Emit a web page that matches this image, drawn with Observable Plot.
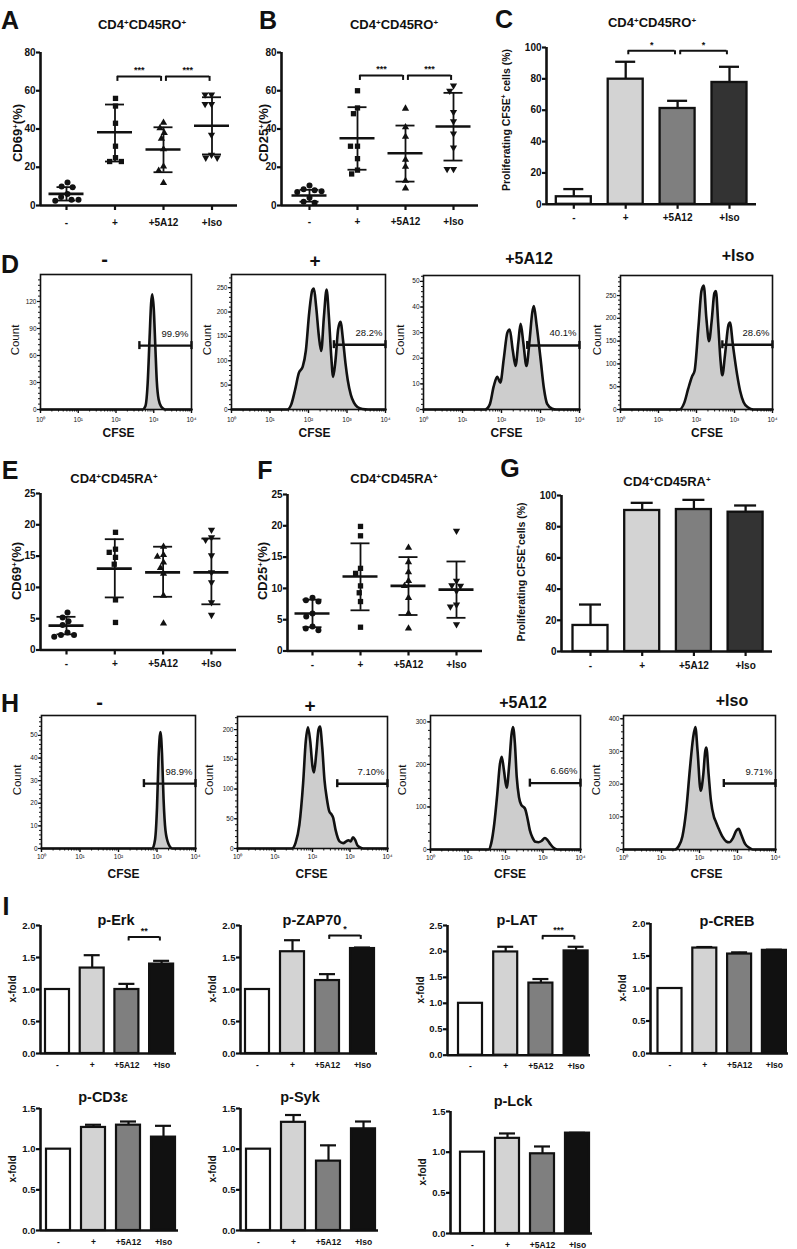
<!DOCTYPE html>
<html><head><meta charset="utf-8">
<script src="https://cdn.jsdelivr.net/npm/d3@7"></script>
<script src="https://cdn.jsdelivr.net/npm/@observablehq/plot@0.6"></script>
<style>
body{margin:0;background:#fff;}
#root{position:relative;width:797px;height:1249px;overflow:hidden;font-family:"Liberation Sans",Arial,Helvetica,sans-serif;color:#111;background:#fff;}
.t{position:absolute;white-space:nowrap;transform:translate(-50%,-50%);line-height:1;}
.v{position:absolute;white-space:nowrap;transform:translate(-50%,-50%) rotate(-90deg);line-height:1;}
.t sup,.v sup{font-size:62%;vertical-align:0;position:relative;top:-0.55em;}
</style></head><body><div id="root"></div><script>
// ---------------- DATA ----------------
const cats = ["-", "+", "+5A12", "+Iso"];

// A: CD69+ (%) CD4+CD45RO+
const aMinus = [12, 10, 9.5, 6, 4.5, 3, 3, 2.5];
const aPlus = [56, 52, 43, 31, 25, 23, 23];
const a5A12 = [43.3, 40.5, 38, 35, 29.4, 20.4, 18.2, 11.8];
const aIso = [58, 58, 53, 53, 37, 26.5, 25, 25];
const aMean = [6.1, 38.3, 29.3, 41.7];
const aLo = [2.6, 23, 17.4, 26.7];
const aHi = [9.6, 52.8, 40.9, 56.6];
const aSig = [{from: "+", to: "+5A12", y: 67.5, label: "***"}, {from: "+5A12", to: "+Iso", y: 67.5, label: "***"}];

// B: CD25+ (%) CD4+CD45RO+
const bMinus = [10.5, 8.5, 8, 7.5, 7, 4, 2, 1.5];
const bPlus = [60, 51, 48, 31, 31, 24.5, 18.5, 16.5];
const b5A12 = [50.7, 41, 36, 24, 20.3, 13, 9];
const bIso = [62.7, 60, 48.8, 44, 37.6, 30.3, 19, 19];
const bMean = [5.2, 35.2, 27.3, 41.3];
const bLo = [2, 18.7, 12.5, 23.5];
const bHi = [8.2, 51.4, 41.8, 58.9];
const bSig = [{from: "+", to: "+5A12", y: 68, label: "***"}, {from: "+5A12", to: "+Iso", y: 68, label: "***"}];

// C: Proliferating CFSE+ cells (%) CD4+CD45RO+
const cVal = [4.8, 79.8, 61.1, 77.7];
const cHi = [9.7, 90.9, 66, 87.7];
const cSig = [{from: "+", to: "+5A12", y: 97.9, label: "*"}, {from: "+5A12", to: "+Iso", y: 97.9, label: "*"}];

// D: CFSE histograms (x = log10 CFSE, y = count)
const dMinus = [[0,0],[2.7,0],[2.78,4],[2.84,30],[2.89,80],[2.93,118],[2.96,128],[3.0,112],[3.04,72],[3.08,32],[3.13,11],[3.2,3],[3.3,0],[4,0]];
const dPlus = [[0,0],[1.45,0],[1.55,10],[1.65,40],[1.75,75],[1.85,88],[1.93,120],[2.02,200],[2.1,245],[2.14,248],[2.2,210],[2.27,150],[2.33,120],[2.4,190],[2.47,246],[2.53,190],[2.59,110],[2.64,67],[2.7,100],[2.77,165],[2.83,180],[2.9,140],[2.96,95],[3.02,60],[3.1,30],[3.18,14],[3.27,5],[3.4,1],[3.55,0],[4,0]];
const d5A12 = [[0,0],[1.58,0],[1.7,2],[1.8,9],[1.89,12.8],[1.97,10.5],[2.06,20],[2.15,30],[2.21,31.2],[2.29,23],[2.36,17],[2.43,26],[2.49,33.4],[2.56,26],[2.64,17],[2.72,27],[2.79,38],[2.83,40.4],[2.9,33],[3.0,20],[3.09,8],[3.17,2.2],[3.3,0.3],[3.4,0],[4,0]];
const dIso = [[0,0],[1.55,0],[1.68,15],[1.78,45],[1.88,72],[1.95,85],[2.05,180],[2.13,260],[2.19,272],[2.26,200],[2.33,150],[2.4,195],[2.47,255],[2.51,260],[2.57,190],[2.63,110],[2.68,75],[2.75,120],[2.84,185],[2.88,191],[2.96,140],[3.07,76],[3.15,40],[3.24,16],[3.35,5],[3.5,0],[4,0]];
const dGateX = [2.62, 2.66, 2.66, 2.68];
const dGateC = [71, 133, 25, 142];
const dPct = ["99.9%", "28.2%", "40.1%", "28.6%"];

// E: CD69+ (%) CD4+CD45RA+
const eMinus = [6.0, 5.2, 4.6, 4.0, 2.8, 2.4, 2.4, 2.1];
const ePlus = [18.8, 16.1, 15.6, 14.8, 13.7, 8.0, 4.4];
const e5A12 = [16.5, 15.2, 14.9, 14.0, 13.1, 12.2, 8.7, 4.25];
const eIso = [19.2, 18.0, 17.6, 15.1, 12.4, 10.8, 7.6, 5.6];
const eMean = [3.9, 13.0, 12.4, 12.4];
const eLo = [2.5, 8.4, 8.5, 7.3];
const eHi = [5.3, 17.7, 16.5, 17.8];

// F: CD25+ (%) CD4+CD45RA+
const fMinus = [8.5, 8.1, 7.9, 6.0, 5.5, 3.9, 3.6, 3.3];
const fPlus = [19.9, 18.4, 13.2, 12.4, 10.4, 9.3, 7.9, 3.8];
const f5A12 = [16.5, 14.2, 12.6, 11.2, 10.4, 8.5, 6.0, 3.6];
const fIso = [19.2, 11.2, 10.5, 10.4, 9.6, 7.4, 7.1, 4.25];
const fMean = [6.0, 11.9, 10.4, 9.8];
const fLo = [3.8, 6.5, 5.75, 5.3];
const fHi = [8.2, 17.2, 15.0, 14.3];

// G: Proliferating CFSE+ cells (%) CD4+CD45RA+
const gVal = [16.7, 90.4, 91, 89.3];
const gHi = [30.1, 95.3, 97.2, 93.6];

// H: CFSE histograms
const hMinus = [[0,0],[2.88,0],[2.95,4],[3.0,18],[3.04,40],[3.09,51.5],[3.13,42],[3.17,22],[3.22,8],[3.3,2],[3.4,0],[4,0]];
const hPlus = [[0,0],[1.45,0],[1.55,10],[1.65,40],[1.75,110],[1.82,180],[1.88,204],[1.94,180],[2.0,138],[2.04,128],[2.1,160],[2.16,200],[2.2,205],[2.26,170],[2.32,115],[2.38,85],[2.45,62],[2.5,58],[2.55,52],[2.62,30],[2.72,12],[2.82,9],[2.9,12],[2.96,14],[3.02,12],[3.08,19],[3.14,14],[3.2,5],[3.3,1],[3.4,0],[4,0]];
const h5A12 = [[0,0],[1.55,0],[1.62,15],[1.7,60],[1.78,130],[1.85,200],[1.9,218],[1.96,185],[2.03,145],[2.1,200],[2.16,270],[2.2,288],[2.25,250],[2.3,170],[2.36,123],[2.42,105],[2.48,100],[2.52,96],[2.58,76],[2.65,45],[2.72,28],[2.8,18],[2.88,17],[2.96,20],[3.05,27],[3.12,22],[3.2,12],[3.28,4],[3.38,0],[4,0]];
const hIso = [[0,0],[1.35,0],[1.45,10],[1.55,40],[1.65,120],[1.75,250],[1.83,340],[1.89,375],[1.95,300],[2.03,180],[2.1,230],[2.15,300],[2.18,312],[2.24,230],[2.3,150],[2.38,100],[2.43,85],[2.5,65],[2.6,40],[2.7,25],[2.78,22],[2.88,35],[2.97,58],[3.03,63],[3.1,45],[3.2,17],[3.3,6],[3.4,0],[4,0]];
const hGateX = [2.66, 2.66, 2.65, 2.64];
const hGateC = [28.7, 109, 156, 202];
const hPct = ["98.9%", "7.10%", "6.66%", "9.71%"];

// I: phospho x-fold
const erkVal = [1.0, 1.335, 1.0, 1.397];   const erkHi = [1.0, 1.536, 1.088, 1.448];
const zapVal = [1.0, 1.59, 1.14, 1.64];    const zapHi = [1.0, 1.77, 1.24, 1.656];
const latVal = [1.0, 1.99, 1.39, 2.01];    const latHi = [1.0, 2.09, 1.468, 2.09];
const crebVal = [1.0, 1.622, 1.53, 1.587]; const crebHi = [1.0, 1.638, 1.556, 1.597];
const cd3Val = [1.0, 1.267, 1.295, 1.148]; const cd3Hi = [1.0, 1.30, 1.34, 1.287];
const sykVal = [1.0, 1.33, 0.853, 1.25];   const sykHi = [1.0, 1.42, 1.047, 1.34];
const lckVal = [1.0, 1.17, 0.98, 1.234];   const lckHi = [1.0, 1.23, 1.07, 1.238];
const erkSig = [{from: "+5A12", to: "+Iso", y: 1.82, label: "**"}];
const zapSig = [{from: "+5A12", to: "+Iso", y: 1.845, label: "*"}];
const latSig = [{from: "+5A12", to: "+Iso", y: 2.30, label: "***"}];

const greys = ["#ffffff", "#d3d3d3", "#7f7f7f", "#333333"];
const greysI = ["#ffffff", "#d3d3d3", "#7f7f7f", "#111111"];
const SUP = ["⁰", "¹", "²", "³", "⁴"];

// ---------------- HELPERS ----------------
const root = document.getElementById("root");
const FONT = '"Liberation Sans", Arial, Helvetica, sans-serif';
const triDown = {draw(ctx, size) { const y = -Math.sqrt(size / (Math.sqrt(3) * 3)); const s = Math.sqrt(3); ctx.moveTo(0, -2 * y); ctx.lineTo(-s * y, y); ctx.lineTo(s * y, y); ctx.closePath(); }};
const SYMS = ["circle", "square", "triangle", triDown];

function plotAt(box, pad, opts, style = {}) {
  const svg = Plot.plot({
    width: box.r - box.l + pad.l + pad.r,
    height: box.b - box.t + pad.t + pad.b,
    marginLeft: pad.l, marginRight: pad.r, marginTop: pad.t, marginBottom: pad.b,
    style: Object.assign({background: "transparent", overflow: "visible", fontFamily: FONT, color: "#111"}, style),
    ...opts
  });
  svg.style.position = "absolute";
  svg.style.left = (box.l - pad.l) + "px";
  svg.style.top = (box.t - pad.t) + "px";
  root.appendChild(svg);
}
function T(html, x, y, size, weight = "bold", cls = "t") {
  const d = document.createElement("div");
  d.className = cls; d.innerHTML = html;
  d.style.left = x + "px"; d.style.top = y + "px";
  d.style.fontSize = size + "px"; d.style.fontWeight = weight;
  root.appendChild(d);
}
const V = (html, x, y, size, weight = "bold") => T(html, x, y, size, weight, "v");

function bracketMarks(sig, tick, sw, fs) {
  const br = sig.map(s => ({a: cats.indexOf(s.from) + 0.05, b: cats.indexOf(s.to) - 0.05, y: s.y, label: s.label}));
  return [
    Plot.ruleY(br, {y: "y", x1: "a", x2: "b", strokeWidth: sw}),
    Plot.ruleX(br, {x: "a", y1: "y", y2: "y", insetBottom: -tick, strokeWidth: sw}),
    Plot.ruleX(br, {x: "b", y1: "y", y2: "y", insetBottom: -tick, strokeWidth: sw}),
    Plot.text(br, {x: d => (d.a + d.b) / 2, y: "y", text: "label", dy: -6, fontSize: fs, fontWeight: "bold"})
  ];
}

function dotPanel(P) {
  const {groups, mean, lo, hi, sig = [], ymax, yticks, ax, c0, step, xEnd, yTop, yZero, labPad = 7} = P;
  const d0 = (ax - c0) / step, d1 = (xEnd - c0) / step;
  const stats = cats.map((c, i) => ({i, mean: mean[i], lo: lo[i], hi: hi[i]}));
  const mw = 17.5 / step, cw = 9.5 / step;
  plotAt({l: ax, r: xEnd, t: yTop, b: yZero}, {l: 40, r: 8, t: 40, b: 30}, {
    x: {domain: [d0, d1]},
    y: {domain: [0, ymax]},
    marks: [
      Plot.ruleX(stats, {x: "i", y1: "lo", y2: "hi", strokeWidth: 1.8}),
      Plot.ruleY(stats, {y: "lo", x1: d => d.i - cw, x2: d => d.i + cw, strokeWidth: 1.8}),
      Plot.ruleY(stats, {y: "hi", x1: d => d.i - cw, x2: d => d.i + cw, strokeWidth: 1.8}),
      Plot.ruleY(stats, {y: "mean", x1: d => d.i - mw, x2: d => d.i + mw, strokeWidth: 2.6}),
      ...bracketMarks(sig, 5, 2, 9),
      Plot.ruleY([0], {strokeWidth: 2.6}),
      Plot.ruleX([d0], {y1: 0, y2: ymax, strokeWidth: 2.6}),
      Plot.axisY({ticks: yticks, tickSize: 4, strokeWidth: 2.2, tickPadding: 1, label: null}),
      Plot.axisX({ticks: [0, 1, 2, 3], tickFormat: i => cats[i], tickSize: 5, strokeWidth: 2.2, tickPadding: labPad, label: null})
    ]
  }, {fontWeight: "bold", fontSize: "10px"});
  plotAt({l: c0 - step / 2, r: c0 + 3.5 * step, t: yTop, b: yZero}, {l: 0, r: 0, t: 10, b: 10}, {
    fx: {domain: cats, padding: 0, axis: null},
    x: {axis: null},
    y: {domain: [0, ymax], axis: null},
    marks: cats.map((c, k) => Plot.dot(groups[k].map(v => ({cat: c, v})),
      Plot.dodgeX("middle", {fx: "cat", y: "v", r: k >= 2 ? 2.7 : 3, symbol: SYMS[k], fill: "#111", stroke: "none"})))
  });
}

function barPanel(P) {
  const {val, hi, colors, sig = [], ymax, yticks, ax, c0, step, xEnd, yTop, yZero, barW, capW, sw = 2.3, fmt = d3.format("d"), fs = 10, xfs = 10, xTick = 5, labPad = 5, tickLabPad = 1} = P;
  const d0 = (ax - c0) / step, d1 = (xEnd - c0) / step;
  const rows = cats.map((c, i) => ({i, v: val[i], hi: hi[i], fill: colors[i]}));
  const hw = barW / 2 / step, cw = capW / 2 / step;
  plotAt({l: ax, r: xEnd, t: yTop, b: yZero}, {l: 40, r: 8, t: 40, b: 30}, {
    x: {domain: [d0, d1]},
    y: {domain: [0, ymax]},
    color: {type: "identity"},
    marks: [
      Plot.ruleX(rows, {x: "i", y1: "v", y2: "hi", strokeWidth: sw}),
      Plot.ruleY(rows, {y: "hi", x1: d => d.i - cw, x2: d => d.i + cw, strokeWidth: sw}),
      Plot.rectY(rows, {x1: d => d.i - hw, x2: d => d.i + hw, y1: 0, y2: "v", fill: "fill", stroke: "#111", strokeWidth: sw}),
      ...bracketMarks(sig, 4, 2, 9),
      Plot.ruleY([0], {strokeWidth: 2.6}),
      Plot.ruleX([d0], {y1: 0, y2: ymax, strokeWidth: 2.6}),
      Plot.axisY({ticks: yticks, tickSize: 4, strokeWidth: 2.2, tickPadding: tickLabPad, tickFormat: fmt, label: null, fontSize: fs}),
      Plot.axisX({ticks: [0, 1, 2, 3], tickFormat: i => cats[i], tickSize: xTick, strokeWidth: 2.2, tickPadding: labPad, label: null, fontSize: xfs})
    ]
  }, {fontWeight: "bold", fontSize: fs + "px"});
}

function histPanel(P) {
  const {pts, box, ymax, major, minor, gx, gc, pct, labPad = 2} = P;
  const rows = pts.map(([x, c]) => ({x, c}));
  const gate = [{x: gx, c: gc, pct}];
  const minorX = d3.range(0, 4).flatMap(n => d3.range(2, 10).map(k => n + Math.log10(k)));
  plotAt(box, {l: 30, r: 8, t: 6, b: 22}, {
    x: {domain: [0, 4]},
    y: {domain: [0, ymax]},
    marks: [
      Plot.areaY(rows, {x: "x", y: "c", curve: "monotone-x", fill: "#cdcdcd"}),
      Plot.lineY(rows, {x: "x", y: "c", curve: "monotone-x", stroke: "#111", strokeWidth: 2.6}),
      Plot.frame({stroke: "#111", strokeWidth: 1.6}),
      Plot.axisY({ticks: d3.range(0, ymax - 1, major), tickSize: 3, tickPadding: 1, strokeWidth: 1.2, label: null}),
      Plot.axisY({ticks: d3.range(0, ymax, minor), tickSize: 2, tickFormat: () => "", strokeWidth: 1, label: null}),
      Plot.axisX({ticks: [0, 1, 2, 3, 4], tickSize: 4, tickPadding: labPad, strokeWidth: 1.4, tickFormat: n => "10" + SUP[n], label: null}),
      Plot.axisX({ticks: minorX, tickSize: 2.5, tickFormat: () => "", strokeWidth: 1, label: null}),
      Plot.ruleY(gate, {y: "c", x1: "x", x2: () => 4, strokeWidth: 2.4}),
      Plot.ruleX(gate, {x: "x", y1: "c", y2: "c", insetTop: -4, insetBottom: -4, strokeWidth: 2.4}),
      Plot.ruleX(gate, {x: () => 4, y1: "c", y2: "c", insetTop: -4, insetBottom: -4, strokeWidth: 2.4}),
      Plot.text(gate, {x: () => 4, y: "c", text: "pct", textAnchor: "end", dx: -3, dy: -12, fontSize: 9.5})
    ]
  }, {fontWeight: "normal", fontSize: "6.5px"});
}

// ---------------- PANELS ----------------
// Row 1
dotPanel({groups: [aMinus, aPlus, a5A12, aIso], mean: aMean, lo: aLo, hi: aHi, sig: aSig, ymax: 80, yticks: [0, 20, 40, 60, 80], ax: 40, c0: 66, step: 48.5, xEnd: 237, yTop: 52, yZero: 205, labPad: 8});
dotPanel({groups: [bMinus, bPlus, b5A12, bIso], mean: bMean, lo: bLo, hi: bHi, sig: bSig, ymax: 80, yticks: [0, 20, 40, 60, 80], ax: 281, c0: 309, step: 48, xEnd: 478, yTop: 52, yZero: 205, labPad: 7});
barPanel({val: cVal, hi: cHi, colors: greys, sig: cSig, ymax: 100, yticks: [0, 20, 40, 60, 80, 100], ax: 546, c0: 573.3, step: 51.9, xEnd: 756, yTop: 46.7, yZero: 203.5, barW: 35, capW: 20});

// Row D
const dBoxes = [{l: 40, r: 191, t: 274, b: 409}, {l: 231, r: 385, t: 274, b: 409}, {l: 423, r: 579, t: 275, b: 409}, {l: 620, r: 772, t: 275, b: 409}];
const dMax = [150, 277, 52.3, 294], dMajor = [30, 50, 10, 50], dMinor = [6, 10, 2, 10];
[dMinus, dPlus, d5A12, dIso].forEach((pts, k) => histPanel({pts, box: dBoxes[k], ymax: dMax[k], major: dMajor[k], minor: dMinor[k], gx: dGateX[k], gc: dGateC[k], pct: dPct[k], labPad: 4}));

// Row E-G
dotPanel({groups: [eMinus, ePlus, e5A12, eIso], mean: eMean, lo: eLo, hi: eHi, ymax: 25, yticks: [0, 5, 10, 15, 20, 25], ax: 40, c0: 66, step: 48.3, xEnd: 236, yTop: 492.8, yZero: 649.3, labPad: 5});
dotPanel({groups: [fMinus, fPlus, f5A12, fIso], mean: fMean, lo: fLo, hi: fHi, ymax: 25, yticks: [0, 5, 10, 15, 20, 25], ax: 287, c0: 312, step: 48, xEnd: 482, yTop: 493.5, yZero: 650, labPad: 5});
barPanel({val: gVal, hi: gHi, colors: greys, ymax: 100, yticks: [0, 20, 40, 60, 80, 100], ax: 561, c0: 590, step: 51.7, xEnd: 772, yTop: 495, yZero: 651, barW: 35, capW: 22});

// Row H
const hBoxes = [{l: 41, r: 195, t: 715, b: 848}, {l: 237, r: 387, t: 716, b: 848}, {l: 430, r: 580, t: 715, b: 849}, {l: 623, r: 775, t: 715, b: 849}];
const hMax = [58.8, 222, 315, 410], hMajor = [10, 50, 100, 100], hMinor = [2, 10, 20, 20];
[hMinus, hPlus, h5A12, hIso].forEach((pts, k) => histPanel({pts, box: hBoxes[k], ymax: hMax[k], major: hMajor[k], minor: hMinor[k], gx: hGateX[k], gc: hGateC[k], pct: hPct[k], labPad: 2}));

// Row I
const f1 = d3.format(".1f");
const iCommon = {colors: greysI, barW: 24, capW: 16, sw: 2.2, fmt: f1, fs: 9.5, xfs: 8.5, xTick: 0, labPad: 8};
barPanel({...iCommon, val: erkVal, hi: erkHi, sig: erkSig, ymax: 2, yticks: [0, 0.5, 1, 1.5, 2], ax: 40, c0: 57, step: 34.7, xEnd: 176, yTop: 925, yZero: 1053});
barPanel({...iCommon, val: zapVal, hi: zapHi, sig: zapSig, ymax: 2, yticks: [0, 0.5, 1, 1.5, 2], ax: 240, c0: 257, step: 35, xEnd: 377, yTop: 925, yZero: 1053});
barPanel({...iCommon, val: latVal, hi: latHi, sig: latSig, ymax: 2.5, yticks: [0, 0.5, 1, 1.5, 2, 2.5], ax: 447, c0: 470, step: 35.2, xEnd: 590, yTop: 925, yZero: 1054.7});
barPanel({...iCommon, val: crebVal, hi: crebHi, ymax: 2, yticks: [0, 0.5, 1, 1.5, 2], ax: 650, c0: 669.5, step: 34.8, xEnd: 788, yTop: 923.3, yZero: 1053.3});
barPanel({...iCommon, val: cd3Val, hi: cd3Hi, ymax: 1.5, yticks: [0, 0.5, 1, 1.5], ax: 40, c0: 58, step: 35, xEnd: 178, yTop: 1108, yZero: 1230});
barPanel({...iCommon, val: sykVal, hi: sykHi, ymax: 1.5, yticks: [0, 0.5, 1, 1.5], ax: 240, c0: 258, step: 35, xEnd: 378, yTop: 1108, yZero: 1230});
barPanel({...iCommon, val: lckVal, hi: lckHi, ymax: 1.5, yticks: [0, 0.5, 1, 1.5], ax: 450, c0: 472, step: 35, xEnd: 592, yTop: 1111, yZero: 1233});

// ---------------- TEXT ----------------
[["A", 10, 20], ["B", 268, 20], ["C", 504, 19], ["D", 10, 264], ["E", 10, 470], ["F", 265, 470], ["G", 510, 468], ["H", 10, 703], ["I", 6, 906]].forEach(([s, x, y]) => T(s, x, y, 25));
const RO = "CD4<sup>+</sup>CD45RO<sup>+</sup>", RA = "CD4<sup>+</sup>CD45RA<sup>+</sup>";
T(RO, 142, 25, 13); T(RO, 394, 25, 13); T(RO, 652, 23, 13);
T(RA, 114, 479, 13); T(RA, 394, 479, 13); T(RA, 667, 482, 13);
V("CD69<sup>+</sup>(%)", 18, 133, 13); V("CD25<sup>+</sup>(%)", 264, 133, 13);
V("Proliferating CFSE<sup>+</sup> cells (%)", 506, 120, 10.5);
V("CD69<sup>+</sup>(%)", 17, 571, 13); V("CD25<sup>+</sup>(%)", 263, 571, 13);
V("Proliferating CFSE<sup>+</sup>cells (%)", 521, 572, 10.5);
[["-", 104.5, 259, 20], ["+", 315, 260, 19], ["+5A12", 529, 259, 16], ["+Iso", 738, 256, 16]].forEach(([s, x, y, z]) => T(s, x, y, z));
[["-", 99.5, 702, 20], ["+", 310, 705, 19], ["+5A12", 523, 703, 16], ["+Iso", 732, 701, 16]].forEach(([s, x, y, z]) => T(s, x, y, z));
[16, 207.5, 401, 597.5].forEach(x => V("Count", x, 340, 11.5, "normal"));
[17.5, 210, 403, 597].forEach(x => V("Count", x, 780, 11.5, "normal"));
[118.5, 314.5, 506.5, 707].forEach(x => T("CFSE", x, 433, 12));
[123.5, 311.5, 510, 706.5].forEach(x => T("CFSE", x, 874, 12));
[["p-Erk", 116, 920], ["p-ZAP70", 312, 920], ["p-LAT", 517, 920], ["p-CREB", 727, 921], ["p-CD3ε", 103, 1097], ["p-Syk", 300, 1097], ["p-Lck", 513, 1101]].forEach(([s, x, y]) => T(s, x, y, 14.5));
[[13, 989], [213, 989], [421, 990], [623, 988], [13, 1169], [213, 1169], [423, 1172]].forEach(([x, y]) => V("x-fold", x, y, 10));
</script></body></html>
